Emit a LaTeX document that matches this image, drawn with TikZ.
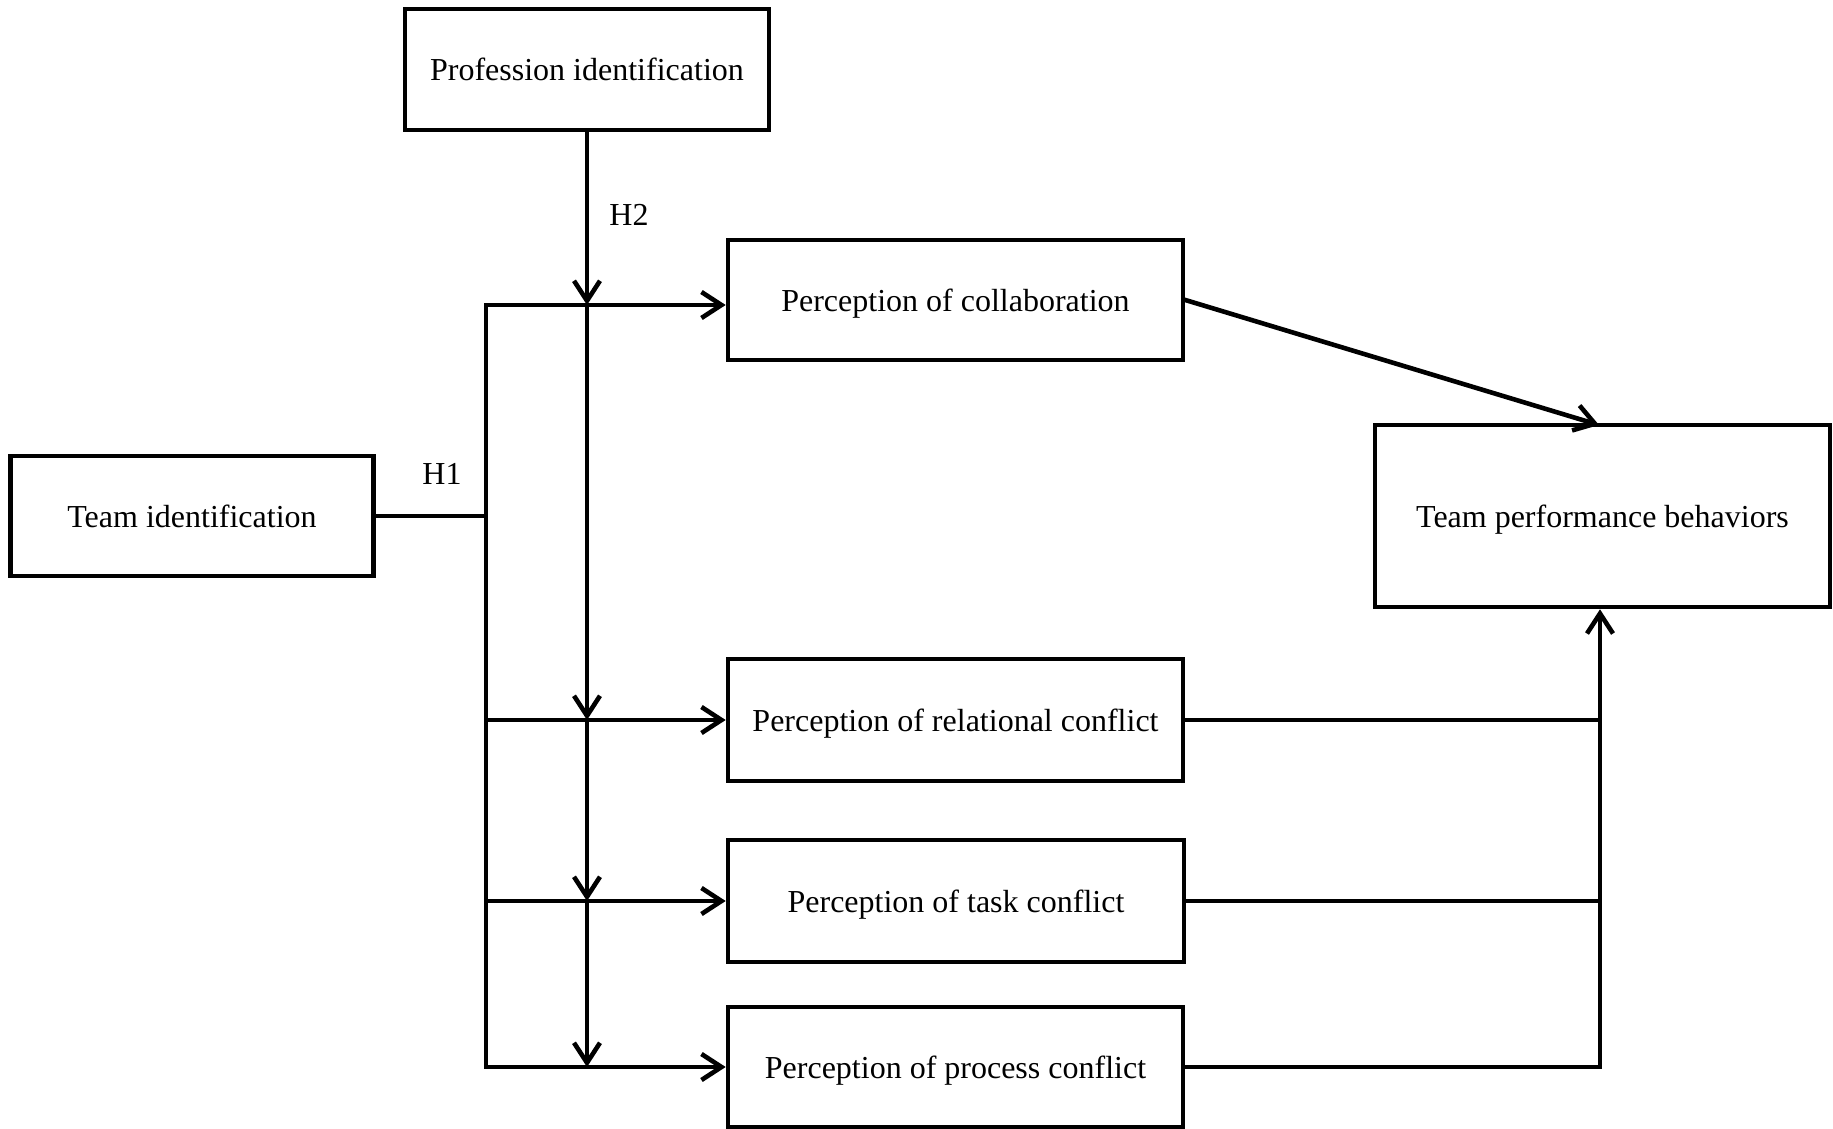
\documentclass[tikz,border=0pt]{standalone}
\usepackage{fontspec}
\setmainfont{Liberation Serif}
\usetikzlibrary{arrows.meta}
\begin{document}
\begin{tikzpicture}[x=0.5pt,y=-0.5pt,
  box/.style={draw, line width=2.3pt, inner sep=0pt, align=center, text depth=0pt, font=\fontsize{16}{19}\selectfont},
  conn/.style={line width=2.3pt, line cap=rect},
  arr/.style={conn, -{Straight Barb[length=10pt,width=13pt,line width=2.3pt]}},
  lbl/.style={font=\fontsize{16}{19}\selectfont, inner sep=0pt}]
\useasboundingbox (0,0) rectangle (1833,1129);
\fill[white] (0,0) rectangle (1833,1129);
% boxes
\node[box, minimum width=182pt, minimum height=60.5pt] (prof) at (587,69.5) {Profession identification};
\node[box, minimum width=181.5pt, minimum height=60pt] (teamid) at (192,516) {Team identification};
\node[box, minimum width=227.5pt, minimum height=60pt] (collab) at (955.5,300) {Perception of collaboration};
\node[box, minimum width=227.5pt, minimum height=61pt] (rel) at (955.5,720) {Perception of relational conflict};
\node[box, minimum width=228pt, minimum height=61pt] (task) at (956,901) {Perception of task conflict};
\node[box, minimum width=227.5pt, minimum height=60pt] (proc) at (955.5,1067) {Perception of process conflict};
\node[box, minimum width=227.5pt, minimum height=91pt] (perf) at (1602.5,516) {Team performance behaviors};
% labels
\node[lbl] (h1) at (442,474) {H1};
\node[lbl] (h2) at (629,215) {H2};
% junction coordinates
\coordinate (m0) at (587,305);
\coordinate (m1) at (587,720);
\coordinate (m2) at (587,901);
\coordinate (m3) at (587,1067);
\coordinate (l0) at (486,305);
\coordinate (l1) at (486,720);
\coordinate (l2) at (486,901);
\coordinate (l3) at (486,1067);
\coordinate (tid) at (486,516);
\coordinate (r1) at (1600,720);
\coordinate (r2) at (1600,901);
\coordinate (r3) at (1600,1067);
% left side
\draw[conn] (l0) -- (l3);
\draw[conn] (teamid.east) -- (tid);
\draw[arr] (l0) -- (l0 -| collab.west);
\draw[arr] (l1) -- (l1 -| rel.west);
\draw[arr] (l2) -- (l2 -| task.west);
\draw[arr] (l3) -- (l3 -| proc.west);
% moderator line
\draw[arr] (prof.south) -- (m0);
\draw[arr] (m0) -- (m1);
\draw[arr] (m1) -- (m2);
\draw[arr] (m2) -- (m3);
% right side
\draw[arr] (collab.east) -- (1599,425);
\draw[conn] (rel.east) -- (r1);
\draw[conn] (task.east) -- (r2);
\draw[conn] (proc.east) -- (r3);
\draw[arr] (r3) -- (r3 |- perf.south);
\end{tikzpicture}
\end{document}
